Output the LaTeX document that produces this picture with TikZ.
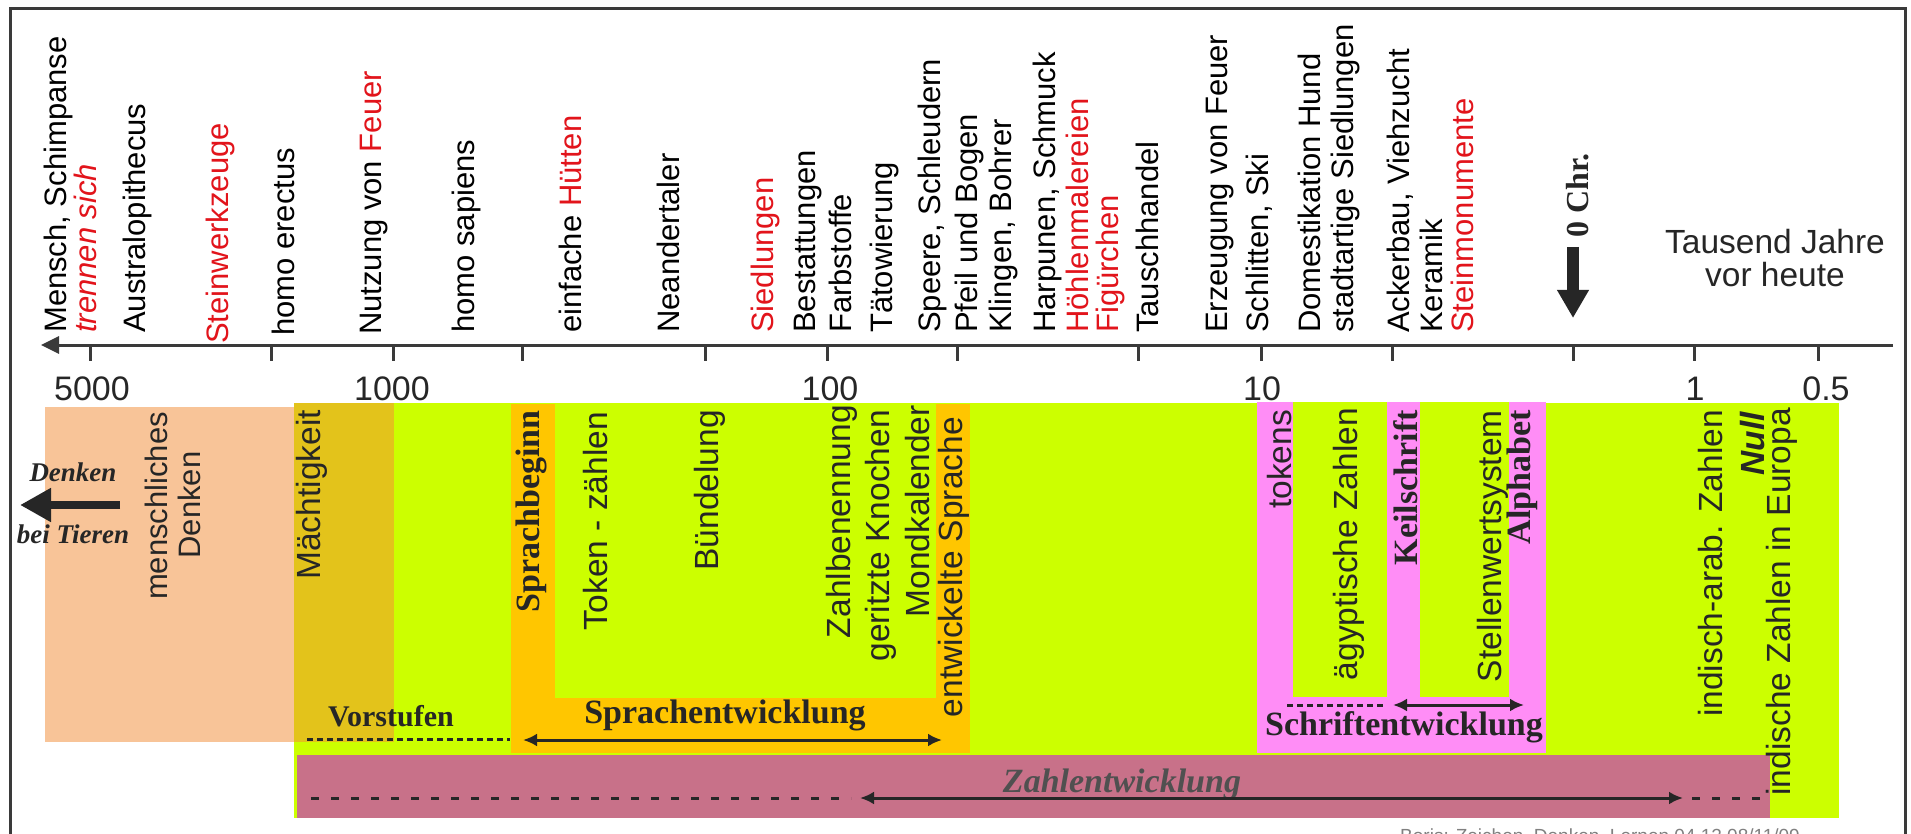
\documentclass[tikz,border=0pt]{standalone}
\usepackage{fontspec}
\setmainfont{Liberation Sans}
\newfontfamily\serifb{Liberation Serif}
\usetikzlibrary{arrows.meta}
\definecolor{lime}{HTML}{CCFF00}
\definecolor{peach}{HTML}{F8C498}
\definecolor{mustard}{HTML}{E3C31B}
\definecolor{orng}{HTML}{FFC600}
\definecolor{pinkz}{HTML}{FF8DF6}
\definecolor{rose}{HTML}{C87189}
\definecolor{ink}{HTML}{262626}
\definecolor{redt}{HTML}{E2141B}
\definecolor{framec}{HTML}{3A3A3A}
\definecolor{greyt}{HTML}{505050}
\begin{document}
\begin{tikzpicture}[x=1pt,y=-1pt,
  upl/.style={rotate=90,inner sep=0pt,anchor=base west,font=\fontsize{31}{33}\selectfont,text=black},
  lowl/.style={rotate=90,inner sep=0pt,anchor=base east,font=\fontsize{33.5}{36}\selectfont,text=ink},
  lowb/.style={rotate=90,inner sep=0pt,anchor=base east,font=\serifb\bfseries\fontsize{34}{36}\selectfont,text=ink},
  hb/.style={inner sep=0pt,anchor=base,font=\serifb\bfseries\fontsize{34}{36}\selectfont,text=ink},
  num/.style={inner sep=0pt,anchor=base,font=\fontsize{34}{36}\selectfont,text=ink},
  tk/.style={line width=3pt,draw=framec},
  dsh/.style={line width=3pt,draw=ink,dash pattern=on 6pt off 4pt},
  dshw/.style={line width=3pt,draw=ink,dash pattern=on 8pt off 12pt},
  dbl/.style={line width=3pt,draw=ink,{Latex[length=14pt,width=13pt]}-{Latex[length=14pt,width=13pt]}},
]
\useasboundingbox (0,0) rectangle (1911,834);
\fill[white] (0,0) rectangle (1911,834);
\begin{scope}
\clip (0,0) rectangle (1911,834);
\draw[framec,line width=3pt] (10,9) rectangle (1905,880);
\end{scope}

% coloured zones
\fill[lime] (294,403) rectangle (1839,818);
\fill[peach] (45,407) rectangle (294,742);
\fill[mustard] (294,403) rectangle (394,742);
\fill[orng] (511,404) rectangle (970,753);
\fill[lime] (555,404) rectangle (936,698);
\fill[pinkz] (1257,402) rectangle (1546,753);
\fill[lime] (1293,402) rectangle (1387,697);
\fill[lime] (1420,402) rectangle (1509,697);
\fill[rose] (297,755) rectangle (1770,818);

% axis
\coordinate (axR) at (1893,345);
\coordinate (axL) at (41,345);
\draw[framec,line width=3pt,-{Triangle[length=18pt,width=17pt]}] (axR) -- (axL);
\foreach \x in {90,271,393,522,705,827,957,1138,1261,1392,1573,1694,1818}
  \draw[tk] (\x,345) -- (\x,361);
\node[num] (n5000) at (92,400) {5000};
\node[num] (n1000) at (392,400) {1000};
\node[num] (n100) at (830,400) {100};
\node[num] (n10) at (1262,400) {10};
\node[num] (n1) at (1695,400) {1};
\node[num] (n05) at (1826,400) {0.5};

% upper labels
\node[upl] (u1) at (66,333) {Mensch, Schimpanse};
\node[upl,text=redt,font=\fontsize{31}{33}\selectfont\itshape] (u1b) at (96,333) {trennen sich};
\node[upl] (u2) at (145,333) {Australopithecus};
\node[upl,text=redt] (u3) at (228,344) {Steinwerkzeuge};
\node[upl] (u4) at (294,336) {homo erectus};
\node[upl] (u5) at (381,335) {Nutzung von \textcolor{redt}{Feuer}};
\node[upl] (u6) at (474,333) {homo sapiens};
\node[upl] (u7) at (581,333) {einfache \textcolor{redt}{Hütten}};
\node[upl] (u8) at (679,333) {Neandertaler};
\node[upl,text=redt] (u9) at (773,333) {Siedlungen};
\node[upl] (u10a) at (815,333) {Bestattungen};
\node[upl] (u10b) at (851,333) {Farbstoffe};
\node[upl] (u11) at (892,333) {Tätowierung};
\node[upl] (u12a) at (940,333) {Speere, Schleudern};
\node[upl] (u12b) at (977,333) {Pfeil und Bogen};
\node[upl] (u12c) at (1011,333) {Klingen, Bohrer};
\node[upl] (u13a) at (1055,333) {Harpunen, Schmuck};
\node[upl,text=redt] (u13b) at (1088,333) {Höhlenmalereien};
\node[upl,text=redt] (u13c) at (1118,333) {Figürchen};
\node[upl] (u14) at (1158,333) {Tauschhandel};
\node[upl] (u15) at (1227,333) {Erzeugung von Feuer};
\node[upl] (u16) at (1268,333) {Schlitten, Ski};
\node[upl] (u17a) at (1320,333) {Domestikation Hund};
\node[upl] (u17b) at (1353,333) {stadtartige Siedlungen};
\node[upl] (u18a) at (1409,333) {Ackerbau, Viehzucht};
\node[upl] (u18b) at (1442,333) {Keramik};
\node[upl,text=redt] (u18c) at (1473,333) {Steinmonumente};

% 0 Chr. and unit
\node[rotate=90,inner sep=0pt,anchor=base west,font=\serifb\bfseries\fontsize{32}{34}\selectfont,text=ink] (chr) at (1588,238) {0 Chr.};
\coordinate (chrA) at (1573,247);
\coordinate (chrB) at (1573,318);
\draw[ink,line width=12.5pt,-{Triangle[length=28pt,width=30pt]}] (chrA) -- (chrB);
\node[inner sep=0pt,anchor=base,font=\fontsize{33.5}{33}\selectfont,text=ink,align=center] (unit) at (1775,287) {Tausend Jahre\\vor heute};

% left side
\node[inner sep=0pt,anchor=base,font=\serifb\bfseries\itshape\fontsize{27}{30}\selectfont,text=ink] (dk) at (73,481) {Denken};
\node[inner sep=0pt,anchor=base,font=\serifb\bfseries\itshape\fontsize{27}{30}\selectfont,text=ink] (bt) at (73,543) {bei Tieren};
\coordinate (dA) at (120,505);
\coordinate (dB) at (20,505);
\draw[ink,line width=8pt,-{Triangle[length=31pt,width=32pt]}] (dA) -- (dB);
\node[rotate=90,inner sep=0pt,anchor=base,font=\fontsize{31}{33}\selectfont,text=ink] (md1) at (167,506) {menschliches};
\node[rotate=90,inner sep=0pt,anchor=base,font=\fontsize{31}{33}\selectfont,text=ink] (md2) at (200,505) {Denken};

% lower labels
\node[lowl] (l1) at (320,410) {Mächtigkeit};
\node[lowb] (l2) at (539,410) {Sprachbeginn};
\node[lowl] (l3) at (607,412) {Token - zählen};
\node[lowl] (l4) at (718,410) {Bündelung};
\node[lowl] (l5) at (850,405) {Zahlbenennung};
\node[lowl] (l6) at (889,410) {geritzte Knochen};
\node[lowl] (l7) at (929,405) {Mondkalender};
\node[lowl] (l8) at (962,417) {entwickelte Sprache};
\node[lowl] (l9) at (1291,410) {tokens};
\node[lowl] (l10) at (1357,408) {ägyptische Zahlen};
\node[lowb] (l11) at (1417,410) {Keilschrift};
\node[lowl] (l12) at (1501,410) {Stellenwertsystem};
\node[lowb] (l13) at (1530,410) {Alphabet};
\node[lowl] (l14) at (1722,410) {indisch-arab. Zahlen};
\node[lowl,font=\fontsize{33.5}{36}\selectfont\bfseries\itshape] (l15) at (1764,412) {Null};
\node[lowl] (l16) at (1790,408) {indische Zahlen in Europa};

% development labels and arrows
\node[hb,font=\serifb\bfseries\fontsize{30}{32}\selectfont] (vor) at (391,726) {Vorstufen};
\coordinate (v1) at (307,739);
\coordinate (v2) at (510,739);
\draw[dsh] (v1) -- (v2);
\node[hb] (spr) at (725,723) {Sprachentwicklung};
\coordinate (s1) at (523,740);
\coordinate (s2) at (942,740);
\draw[dbl] (s1) -- (s2);
\node[hb] (sch) at (1404,735) {Schriftentwicklung};
\coordinate (w1) at (1287,705);
\coordinate (w2) at (1385,705);
\coordinate (w3) at (1393,705);
\coordinate (w4) at (1524,705);
\draw[dsh] (w1) -- (w2);
\draw[dbl] (w3) -- (w4);
\node[hb,font=\serifb\bfseries\itshape\fontsize{34}{36}\selectfont,text=greyt] (zahl) at (1122,792) {Zahlentwicklung};
\coordinate (z1) at (311,798);
\coordinate (z2) at (851,798);
\coordinate (z3) at (860,798);
\coordinate (z4) at (1683,798);
\coordinate (z5) at (1692,798);
\coordinate (z6) at (1770,798);
\draw[dshw] (z1) -- (z2);
\draw[dbl] (z3) -- (z4);
\draw[dshw] (z5) -- (z6);

% footer (cut off at the bottom edge)
\node[inner sep=0pt,anchor=north west,font=\fontsize{19}{21}\selectfont,text=gray] (foot) at (1400,829) {Boris: Zeichen, Denken, Lernen 04.12.08/11/09};
\end{tikzpicture}
\end{document}
